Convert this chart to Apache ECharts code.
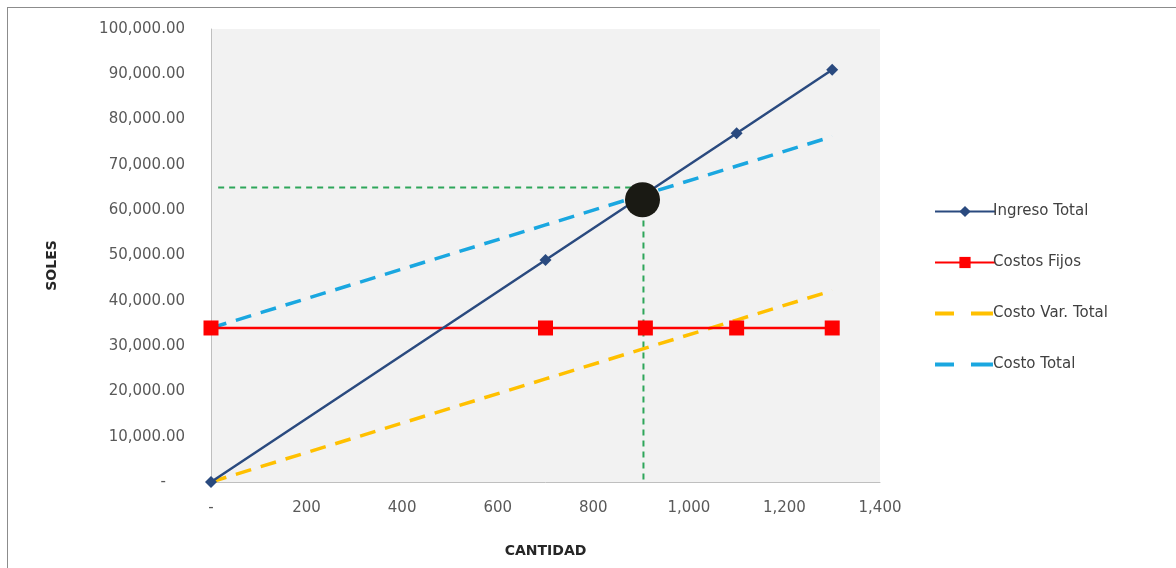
<!DOCTYPE html>
<html><head><meta charset="utf-8">
<script src="https://cdn.jsdelivr.net/npm/echarts@6/dist/echarts.min.js"></script>
<style>
html,body{margin:0;padding:0;background:#fff;}
#frame{position:absolute;left:7px;top:7px;width:1180px;height:580px;border:1px solid #8c8c8c;box-sizing:border-box;}
#c{position:absolute;left:0;top:0;width:1176px;height:568px;}
</style></head>
<body>
<div id="frame"></div>
<div id="c"></div>
<script>
const cantidades = [0, 700, 909, 1100, 1300];
const ingresoTotal = [0, 49000, 63630, 77000, 91000];
const costosFijos = [34000, 34000, 34000, 34000, 34000];
const costoVarTotal = [0, 22750, 29545, 35750, 42250];
const costoTotal = [34000, 56750, 63545, 69750, 76250];
const equilibrio = [[903, 62300]];
const guiaH = [[15, 65000], [905, 65000]];
const guiaV = [[905, 65000], [905, 0]];
const nombres = ['Ingreso Total', 'Costos Fijos', 'Costo Var. Total', 'Costo Total'];

const pairs = arr => cantidades.map((q, i) => [q, arr[i]]);
const font = 'DejaVu Sans';
const dashIcon = 'path://M0,0h0.01v0.01h-0.01zM60,14h0.01v0.01h-0.01zM0,5h19v4h-19zM36,5h22v4h-22z';
const chart = echarts.init(document.getElementById('c'));
chart.setOption({
  animation: false,
  backgroundColor: 'transparent',
  grid: { left: 211, right: 296, top: 29, bottom: 86, backgroundColor: '#f2f2f2', show: true, borderWidth: 0 },
  legend: {
    orient: 'vertical', left: 929, top: 199, itemGap: 36, itemWidth: 60, itemHeight: 14,
    data: [
      { name: nombres[0] },
      { name: nombres[1] },
      { name: nombres[2], icon: dashIcon },
      { name: nombres[3], icon: dashIcon }
    ],
    textStyle: { fontFamily: font, fontSize: 15, color: '#404040', padding: [0, 0, 0, -7] }
  },
  xAxis: {
    type: 'value', min: 0, max: 1400, interval: 200,
    name: 'CANTIDAD', nameLocation: 'middle', nameGap: 62,
    nameTextStyle: { fontFamily: font, fontSize: 14, fontWeight: 'bold', color: '#262626' },
    axisLine: { show: true, lineStyle: { color: '#bfbfbf', width: 1 } },
    axisTick: { show: false },
    splitLine: { show: false },
    axisLabel: { margin: 19, fontFamily: font, fontSize: 15, color: '#595959',
      formatter: v => v === 0 ? '-' : v.toLocaleString('en-US') }
  },
  yAxis: {
    type: 'value', min: 0, max: 100000, interval: 10000,
    name: 'SOLES', nameLocation: 'middle', nameGap: 152, nameRotate: 90,
    nameTextStyle: { fontFamily: font, fontSize: 14, fontWeight: 'bold', color: '#262626', padding: [0, 20, 0, 0] },
    axisLine: { show: true, lineStyle: { color: '#bfbfbf', width: 1 } },
    axisTick: { show: false },
    splitLine: { show: false },
    axisLabel: { margin: 26, fontFamily: font, fontSize: 15, color: '#595959',
      formatter: v => v === 0 ? '-    ' : v.toLocaleString('en-US', { minimumFractionDigits: 2, maximumFractionDigits: 2 }) }
  },
  series: [
    { name: 'guiaH', type: 'line', data: guiaH, symbol: 'none', silent: true, z: 1,
      lineStyle: { color: '#2ea65a', width: 2, type: [6, 5] } },
    { name: 'guiaV', type: 'line', data: guiaV, symbol: 'none', silent: true, z: 1,
      lineStyle: { color: '#2ea65a', width: 2, type: [6, 5] } },
    { name: nombres[2], type: 'line', data: pairs(costoVarTotal), symbol: 'none', z: 2,
      itemStyle: { color: '#ffc000' },
      lineStyle: { color: '#ffc000', width: 3.5, type: [16, 10] } },
    { name: nombres[3], type: 'line', data: pairs(costoTotal), symbol: 'none', z: 2,
      itemStyle: { color: '#1aa7e0' },
      lineStyle: { color: '#1aa7e0', width: 3.5, type: [16, 10] } },
    { name: nombres[1], type: 'line', data: pairs(costosFijos), symbol: 'rect', symbolSize: 15, z: 3,
      itemStyle: { color: '#ff0000' },
      lineStyle: { color: '#ff0000', width: 2.5 } },
    { name: nombres[0], type: 'line', data: pairs(ingresoTotal), symbol: 'diamond', symbolSize: 12, z: 4,
      itemStyle: { color: '#2a4a7f' },
      lineStyle: { color: '#2a4a7f', width: 2.5 } },
    { name: 'equilibrio', type: 'scatter', data: equilibrio, symbol: 'circle', symbolSize: 35, z: 5,
      itemStyle: { color: '#1a1a14', opacity: 1 } }
  ]
});
</script>
</body></html>
